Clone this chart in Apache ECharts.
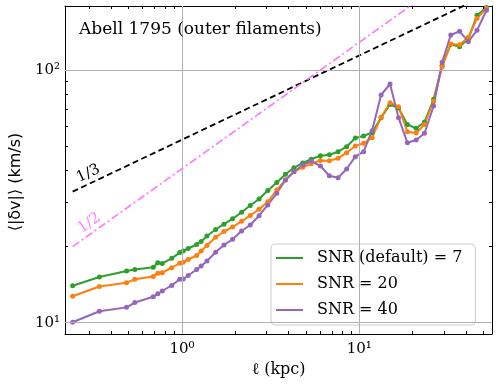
<!DOCTYPE html>
<html>
<head>
<meta charset="utf-8">
<script src="https://cdn.jsdelivr.net/npm/echarts@6/dist/echarts.min.js"></script>
<style>
html,body{margin:0;padding:0;background:#fff;}
#chart{width:498px;height:384px;}
</style>
</head>
<body>
<div id="chart"></div>
<script>
// lag scale (kpc) shared by the three curves
const lagKpc = [0.2416, 0.342, 0.4864, 0.5418, 0.6885, 0.7301, 0.7737, 0.8751, 0.9706, 1.0157,
    1.0836, 1.2097, 1.2823, 1.3823, 1.5475, 1.7236, 1.929, 2.1677, 2.4262, 2.7195,
    3.0479, 3.4238, 3.8325, 4.2806, 4.7966, 5.3557, 6.0328, 6.7795, 7.5874, 8.4819,
    9.4951, 10.573, 11.803, 13.267, 14.905, 16.643, 18.675, 20.935, 23.315, 26.255,
    29.32, 32.81, 36.78, 41.22, 46.13, 52.19];

// <|dv|> in km/s
const snr7 = [14.01, 15.17, 16.02, 16.24, 16.57, 17.28, 17.16, 17.98, 18.94, 19.22,
    19.66, 20.39, 20.96, 22.03, 23.38, 24.54, 25.77, 27.35, 29.09, 30.87,
    33.37, 35.87, 38.7, 41.02, 42.86, 44.33, 45.77, 46.22, 47.5, 49.72,
    53.82, 54.81, 56.59, 64.71, 73.03, 70.73, 60.86, 58.79, 62.26, 76.58,
    104.2, 126.5, 123.7, 132.9, 164.6, 176.7];
const snr20 = [12.72, 13.91, 14.4, 14.85, 15.23, 15.69, 15.77, 16.5, 17.19, 17.34,
    17.79, 18.45, 19.22, 20.21, 21.78, 22.96, 23.92, 25.19, 26.56, 28.13,
    30.09, 33.51, 36.7, 39.66, 41.21, 42.58, 43.84, 43.76, 44.73, 47.07,
    50.03, 51.28, 53.97, 65.01, 74.24, 71.58, 57.0, 56.33, 60.86, 75.4,
    103.1, 126.7, 125.9, 134.7, 160.2, 175.5];
const snr40 = [10.04, 11.1, 11.5, 12.02, 12.67, 13.02, 13.35, 14.04, 14.85, 14.89,
    15.37, 16.24, 16.77, 17.54, 18.99, 20.3, 21.38, 23.07, 24.36, 26.51,
    29.23, 32.52, 36.7, 39.59, 42.09, 43.64, 41.7, 38.17, 37.48, 40.57,
    45.39, 47.5, 57.53, 79.63, 88.03, 64.77, 51.57, 52.84, 56.17, 72.03,
    107.3, 137.6, 142.3, 129.4, 143.6, 172.3];

// power-law guide lines (end points)
const refLagKpc = [0.2416, 52.19];
const slopeThird = [33.0, 198.1];
const slopeHalf = [20.0, 294.0];

const xMajor = [1, 10];
const xMinor = [0.3, 0.4, 0.5, 0.6, 0.7, 0.8, 0.9, 2, 3, 4, 5, 6, 7, 8, 9, 20, 30, 40, 50];
const yMajor = [10, 100];
const yMinor = [20, 30, 40, 50, 60, 70, 80, 90];

const X_MIN = -0.660, X_MAX = 1.7485;
const Y_MIN = 0.9553, Y_MAX = 2.2533;

const lg = Math.log10;
const SERIF = 'DejaVu Serif';
const SUP = {0: '\u2070', 1: '\u00b9', 2: '\u00b2'};

function pts(xs, ys){
    return xs.map((x, i) => [lg(x), lg(ys[i])]);
}

// one axis = one set of inward ticks; major axes also carry the frame line
function mkAxis(pos, lo, hi, ticks, len, frame, labels, margin){
    return {
        type: 'value', position: pos, min: lo, max: hi,
        axisLine: {show: frame, onZero: false, lineStyle: {color: '#000', width: 1}},
        axisTick: {show: true, inside: true, length: len, customValues: ticks.map(lg),
            lineStyle: {color: '#000', width: 1}},
        axisLabel: labels ? {
            customValues: ticks.map(lg), color: '#000', fontFamily: SERIF, fontSize: 15, margin: margin,
            formatter: v => '10' + SUP[Math.round(v)]
        } : {show: false},
        splitLine: {show: false}
    };
}

const xAxes = [
    mkAxis('bottom', X_MIN, X_MAX, xMajor, 5, true, true, 8),
    mkAxis('bottom', X_MIN, X_MAX, xMinor, 3, false, false),
    mkAxis('top', X_MIN, X_MAX, xMajor, 5, true, false),
    mkAxis('top', X_MIN, X_MAX, xMinor, 3, false, false)
];
xAxes[0].name = 'ℓ (kpc)';
xAxes[0].nameLocation = 'middle';
xAxes[0].nameGap = 28;
xAxes[0].nameTextStyle = {fontFamily: SERIF, fontSize: 16, color: '#000'};

const yAxes = [
    mkAxis('left', Y_MIN, Y_MAX, yMajor, 5, true, true, 5),
    mkAxis('left', Y_MIN, Y_MAX, yMinor, 3, false, false),
    mkAxis('right', Y_MIN, Y_MAX, yMajor, 5, true, false),
    mkAxis('right', Y_MIN, Y_MAX, yMinor, 3, false, false)
];
yAxes[0].name = '⟨|δv|⟩ (km/s)';
yAxes[0].nameLocation = 'middle';
yAxes[0].nameGap = 41;
yAxes[0].nameTextStyle = {fontFamily: 'DejaVu Sans', fontSize: 16, color: '#000', padding: [0, 24, 0, 0]};

function dataLine(name, color, ys){
    return {
        name: name, type: 'line', data: pts(lagKpc, ys),
        symbol: 'circle', symbolSize: 5, showSymbol: true,
        itemStyle: {color: color}, lineStyle: {color: color, width: 2},
        z: 3, animation: false
    };
}

const chart = echarts.init(document.getElementById('chart'));
chart.setOption({
    animation: false,
    title: {
        text: 'Abell 1795 (outer filaments)', left: 79, top: 21, padding: 0,
        textStyle: {fontFamily: SERIF, fontSize: 17, fontWeight: 'normal', color: '#000'}
    },
    grid: {left: 64, right: 6, top: 6, bottom: 50},
    xAxis: xAxes,
    yAxis: yAxes,
    legend: {
        orient: 'vertical', left: 271, top: 244,
        padding: [4, 13, 5, 5], itemGap: 6,
        itemWidth: 27, itemHeight: 2, icon: 'rect',
        backgroundColor: 'rgba(255,255,255,0.8)', borderColor: '#cccccc', borderWidth: 1, borderRadius: 4,
        textStyle: {fontFamily: SERIF, fontSize: 16, color: '#000', lineHeight: 20, padding: [0, 0, 0, 9]},
        data: ['SNR (default) = 7', 'SNR = 20', 'SNR = 40']
    },
    series: [
        {
            type: 'line', data: [], z: 1, silent: true,
            markLine: {
                silent: true, symbol: 'none', label: {show: false}, animation: false,
                lineStyle: {color: '#b0b0b0', width: 1, type: 'solid'},
                data: xMajor.map(v => ({xAxis: lg(v)})).concat(yMajor.map(v => ({yAxis: lg(v)})))
            }
        },
        {
            type: 'line', data: pts(refLagKpc, slopeThird), showSymbol: false, z: 2,
            lineStyle: {color: '#000', width: 1.8, type: [6, 3.5]},
            markPoint: {
                symbolSize: 0, animation: false,
                data: [{coord: [lg(0.296), lg(38.9)], label: {show: true, formatter: '1/3', rotate: 25,
                    color: '#000', fontFamily: SERIF, fontSize: 15}}]
            }
        },
        {
            type: 'line', data: pts(refLagKpc, slopeHalf), showSymbol: false, z: 2,
            lineStyle: {color: '#ff80ff', width: 1.8, type: [8, 3, 2, 3]},
            markPoint: {
                symbolSize: 0, animation: false,
                data: [{coord: [lg(0.3), lg(24.8)], label: {show: true, formatter: '1/2', rotate: 35,
                    color: '#ff80ff', fontFamily: SERIF, fontSize: 15}}]
            }
        },
        dataLine('SNR (default) = 7', '#2ca02c', snr7),
        dataLine('SNR = 20', '#ff7f0e', snr20),
        dataLine('SNR = 40', '#9467bd', snr40)
    ]
});
</script>
</body>
</html>
